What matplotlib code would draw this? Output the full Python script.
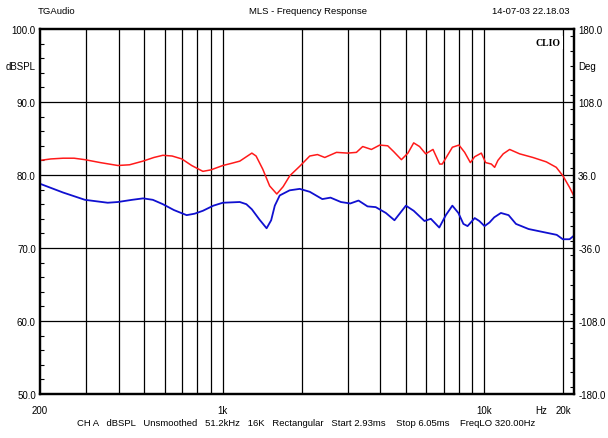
import matplotlib.pyplot as plt
from matplotlib.ticker import FixedLocator, NullFormatter, MultipleLocator

plt.rcParams['font.family'] = ['Liberation Sans', 'DejaVu Sans']

# frequency response (Hz, dBSPL)
red_freq = [200, 220, 245, 270, 297, 340, 397, 440, 495, 545, 590, 640, 697, 760, 839,
            900, 1000, 1080, 1161, 1230, 1291, 1340, 1421, 1510, 1608, 1700, 1803,
            1968, 2149, 2300, 2453, 2719, 3000, 3241, 3425, 3698, 3979, 4269, 4500,
            4815, 5100, 5365, 5650, 5963, 6359, 6744, 6900, 7200, 7542, 7992, 8403,
            8836, 9176, 9732, 10107, 10627, 10940, 11260, 11800, 12486, 13630, 15326,
            17240, 18820, 19940, 21160, 22000]
red_db = [82.0, 82.2, 82.3, 82.3, 82.1, 81.7, 81.3, 81.4, 81.9, 82.4, 82.7, 82.6, 82.2,
          81.3, 80.5, 80.7, 81.3, 81.6, 81.9, 82.5, 83.0, 82.6, 80.8, 78.5, 77.4, 78.4,
          79.9, 81.2, 82.6, 82.8, 82.4, 83.1, 83.0, 83.1, 83.9, 83.5, 84.1, 84.0, 83.2,
          82.1, 83.0, 84.4, 83.9, 82.9, 83.5, 81.5, 81.5, 82.6, 83.8, 84.1, 83.1,
          81.7, 82.5, 83.0, 81.7, 81.5, 81.05, 82.0, 82.9, 83.5, 82.9, 82.4,
          81.8, 81.05, 79.9, 78.3, 77.1]

blue_freq = [200, 245, 297, 363, 397, 450, 496, 540, 590, 650, 727, 780, 839, 920, 1000,
             1161, 1230, 1291, 1380, 1470, 1530, 1580, 1650, 1800, 1968, 2149, 2400,
             2580, 2827, 3070, 3301, 3573, 3840, 4200, 4530, 5010, 5365, 5900, 6240,
             6720, 7120, 7540, 7950, 8310, 8620, 9180, 9560, 10010, 10460, 10900, 11560,
             12370, 13200, 14750, 16690, 18900, 19940, 21160, 22000]
blue_db = [78.8, 77.6, 76.6, 76.2, 76.3, 76.6, 76.8, 76.6, 76.0, 75.2, 74.5, 74.7, 75.1,
           75.8, 76.2, 76.3, 76.0, 75.3, 73.9, 72.7, 73.8, 75.8, 77.2, 77.9, 78.1, 77.7,
           76.7, 76.9, 76.3, 76.1, 76.5, 75.7, 75.6, 74.8, 73.8, 75.8, 75.1, 73.7, 74.0,
           72.8, 74.5, 75.8, 74.8, 73.3, 73.0, 74.1, 73.7, 73.0, 73.5, 74.2, 74.8,
           74.5, 73.3, 72.6, 72.2, 71.8, 71.2, 71.2, 71.7]

grid_freqs = [300, 400, 500, 600, 700, 800, 900, 1000, 2000, 3000, 4000, 5000,
              6000, 7000, 8000, 9000, 10000, 20000]
db_ticks = [50, 60, 70, 80, 90, 100]
deg_ticks = [-180, -108, -36, 36, 108, 180]

fig = plt.figure(figsize=(6.08, 4.39), dpi=100)
ax = fig.add_axes([40/608, 44/439, 534/608, 365/439])
ax.set_xscale('log')
ax.set_xlim(200, 22000)
ax.set_ylim(50, 100)

for f in grid_freqs:
    ax.axvline(f, color='black', lw=0.9, zorder=1)
for d in db_ticks[1:-1]:
    ax.axhline(d, color='black', lw=0.9, zorder=1)

ax.plot(red_freq, red_db, color='#ff1a1a', lw=1.1, zorder=3)
ax.plot(blue_freq, blue_db, color='#1010d0', lw=1.3, zorder=3)

ax.xaxis.set_major_locator(FixedLocator([]))
ax.xaxis.set_minor_locator(FixedLocator([]))
ax.xaxis.set_minor_formatter(NullFormatter())
ax.set_yticks(db_ticks)
ax.set_yticklabels(['%.1f' % v for v in db_ticks])
ax.yaxis.set_minor_locator(MultipleLocator(2))
ax.tick_params(axis='y', which='major', direction='in', length=0, pad=3, labelsize=7)
ax.tick_params(axis='y', which='minor', direction='in', length=3, width=0.8)
for s in ax.spines.values():
    s.set_linewidth(1.6)

ax2 = ax.twinx()
ax2.set_ylim(-180, 180)
ax2.set_yticks(deg_ticks)
ax2.set_yticklabels(['%.1f' % v for v in deg_ticks])
ax2.yaxis.set_minor_locator(MultipleLocator(14.4))
ax2.tick_params(axis='y', which='major', direction='in', length=0, pad=3, labelsize=7)
ax2.tick_params(axis='y', which='minor', direction='in', length=3, width=0.8)
for s in ax2.spines.values():
    s.set_linewidth(1.6)

# x labels
for f, lab in [(200, '200'), (1000, '1k'), (10000, '10k'), (20000, '20k')]:
    ax.text(f, -0.03, lab, transform=ax.get_xaxis_transform(), ha='center', va='top', fontsize=7)
ax.text(16500, -0.03, 'Hz', transform=ax.get_xaxis_transform(), ha='center', va='top', fontsize=7)

ax.text(-0.008, 0.9, 'dBSPL', transform=ax.transAxes, ha='right', va='center', fontsize=7)
ax.text(1.008, 0.9, 'Deg', transform=ax.transAxes, ha='left', va='center', fontsize=7)

ax.text(0.975, 0.975, 'CLIO', transform=ax.transAxes, ha='right', va='top', fontsize=7,
        family='Liberation Serif', weight='bold', zorder=5,
        bbox=dict(facecolor='white', edgecolor='none', pad=1.5))

fig.text(38/608, 1 - 12/439, 'TGAudio', ha='left', va='center', fontsize=6.8)
fig.text(308/608, 1 - 12/439, 'MLS - Frequency Response', ha='center', va='center', fontsize=6.8)
fig.text(570/608, 1 - 12/439, '14-07-03 22.18.03', ha='right', va='center', fontsize=6.8)
fig.text(306/608, 1 - 424/439,
         'CH A   dBSPL   Unsmoothed   51.2kHz   16K   Rectangular   Start 2.93ms    Stop 6.05ms    FreqLO 320.00Hz',
         ha='center', va='center', fontsize=6.8)

fig.savefig('out.png', dpi=100)
